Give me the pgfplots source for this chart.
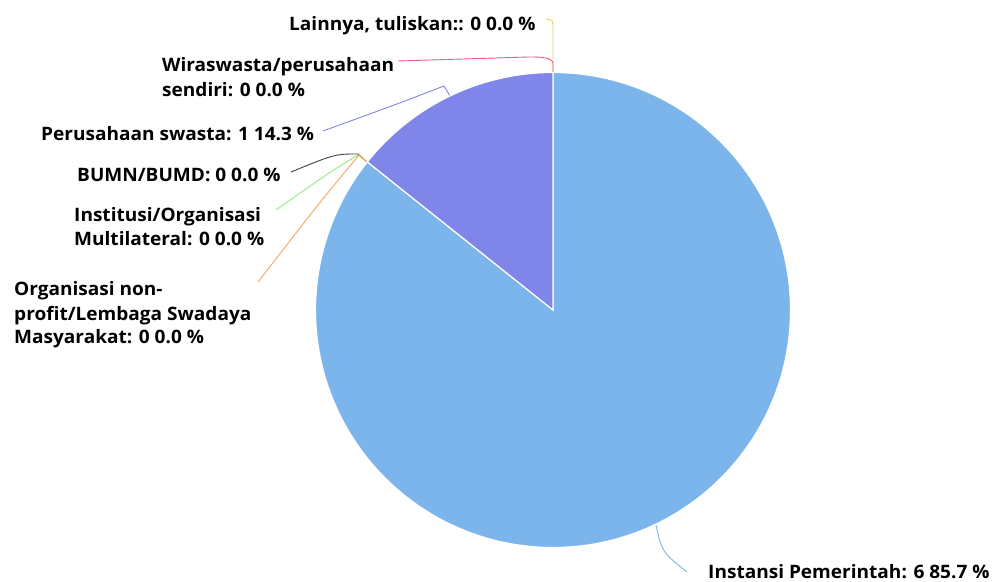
\documentclass[border=0pt]{standalone}
\usepackage{fontspec}
\setmainfont{Open Sans}[FakeStretch=1.03]
\usepackage{pgfplots}
\usepackage{pgfplotstable}
\pgfplotsset{compat=1.18}
\definecolor{cInst}{HTML}{7CB5EC}
\definecolor{cBumn}{HTML}{434348}
\definecolor{cIns}{HTML}{90ED7D}
\definecolor{cOrg}{HTML}{F7A35C}
\definecolor{cPer}{HTML}{8085E9}
\definecolor{cWir}{HTML}{F15C80}
\definecolor{cLain}{HTML}{E4D354}
\pgfplotstableread{
key value
Instansi 6
BUMN 0
Institusi 0
Organisasi 0
Perusahaan 1
Wiraswasta 0
Lainnya 0
}\piedata
\newcommand\lbl{\fontsize{18.5bp}{25bp}\selectfont\bfseries}
\pgfmathsetmacro\total{0}%
\pgfplotsforeachungrouped \i in {0,...,6}{%
  \pgfplotstablegetelem{\i}{value}\of\piedata%
  \pgfmathsetmacro\total{\total+\pgfplotsretval}}%
\pgfplotstablegetelem{0}{value}\of\piedata\let\vInst\pgfplotsretval%
\pgfplotstablegetelem{4}{value}\of\piedata\let\vPers\pgfplotsretval%
\pgfmathsetmacro\aA{90}%
\pgfmathsetmacro\aB{90-360*\vInst/\total}%
\pgfmathsetmacro\aC{\aB-360*\vPers/\total}%
\begin{document}%
\begin{tikzpicture}
\begin{axis}[
  name=ax,
  x=1bp, y=1bp,
  xmin=0, xmax=994, ymin=0, ymax=582,
  hide axis, clip=false,
]
% leader lines
\draw[cLain, line width=0.9bp] (axis cs:553,510) -- (axis cs:553,554) .. controls (axis cs:553,562) .. (axis cs:546,563);
\draw[cWir, line width=0.9bp] (axis cs:553,510) -- (axis cs:553,519) .. controls (axis cs:551,525) and (axis cs:540,525) .. (axis cs:528,525) -- (axis cs:398,521);
\draw[cPer, line width=0.9bp] (axis cs:450,486) -- (axis cs:444,496) .. controls (axis cs:400,479) .. (axis cs:323,451);
\draw[cBumn, line width=0.9bp] (axis cs:367,420) -- (axis cs:358,428) .. controls (axis cs:335,428) .. (axis cs:291,410);
\draw[cIns, line width=0.9bp] (axis cs:367,420) -- (axis cs:358,427) .. controls (axis cs:330,410) .. (axis cs:276,372);
\draw[cOrg, line width=0.9bp] (axis cs:367,420) -- (axis cs:359,427) .. controls (axis cs:320,380) .. (axis cs:258,300);
\draw[cInst, line width=0.9bp] (axis cs:656,57) .. controls (axis cs:662,30) .. (axis cs:687,10);
% slices
\fill[cInst, draw=white, line width=1.2bp] (axis cs:553,272) -- ++(\aA:237.5bp) arc[start angle=\aA, end angle=\aB, radius=237.5bp] -- cycle;
\fill[cPer, draw=white, line width=1.2bp] (axis cs:553,272) -- ++(\aB:237.5bp) arc[start angle=\aB, end angle=\aC, radius=237.5bp] -- cycle;
% labels
\node[anchor=base west, inner sep=0pt, font=\lbl] at (axis cs:289,551) {Lainnya, tuliskan:: 0 0.0 \%};
\node[anchor=base west, inner sep=0pt, font=\lbl] at (axis cs:162,510) {Wiraswasta/perusahaan};
\node[anchor=base west, inner sep=0pt, font=\lbl] at (axis cs:162,485) {sendiri: 0 0.0 \%};
\node[anchor=base west, inner sep=0pt, font=\lbl] at (axis cs:41,441) {Perusahaan swasta: 1 14.3 \%};
\node[anchor=base west, inner sep=0pt, font=\lbl] at (axis cs:77,400) {BUMN/BUMD: 0 0.0 \%};
\node[anchor=base west, inner sep=0pt, font=\lbl] at (axis cs:74,360) {Institusi/Organisasi};
\node[anchor=base west, inner sep=0pt, font=\lbl] at (axis cs:74,336) {Multilateral: 0 0.0 \%};
\node[anchor=base west, inner sep=0pt, font=\lbl] at (axis cs:14,286) {Organisasi non-};
\node[anchor=base west, inner sep=0pt, font=\lbl] at (axis cs:14,261) {profit/Lembaga Swadaya};
\node[anchor=base west, inner sep=0pt, font=\lbl] at (axis cs:14,238) {Masyarakat: 0 0.0 \%};
\node[anchor=base west, inner sep=0pt, font=\lbl] at (axis cs:708,3) {Instansi Pemerintah: 6 85.7 \%};
\end{axis}
\pgfresetboundingbox
\useasboundingbox (ax.south west) rectangle (ax.north east);
\end{tikzpicture}%
\end{document}
